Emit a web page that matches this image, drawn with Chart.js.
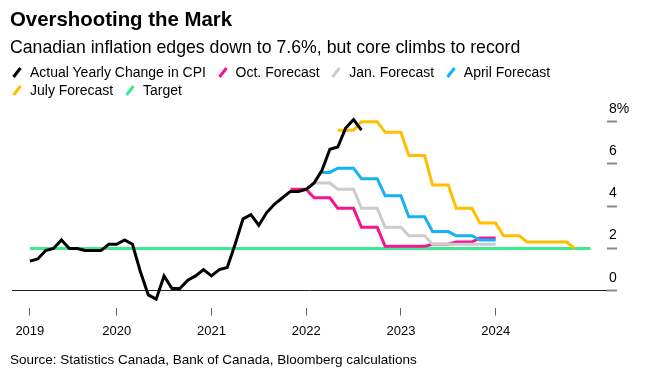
<!DOCTYPE html>
<html>
<head>
<meta charset="utf-8">
<script src="https://cdn.jsdelivr.net/npm/chart.js@4.4.1/dist/chart.umd.min.js"></script>
<style>
  html, body { margin: 0; padding: 0; background: #fff; }
  #wrap { position: relative; width: 647px; height: 388px; overflow: hidden;
          font-family: 'Liberation Sans', Arial, sans-serif; color: #000; }
  #c { position: absolute; left: 0; top: 0; }
  .t { position: absolute; left: 10px; white-space: nowrap; }
  #title { top: 6.5px; font-size: 20.4px; font-weight: bold; line-height: 24px; }
  #sub { top: 37.2px; font-size: 17.7px; line-height: 21px; }
  #legend { position: absolute; left: 12px; top: 63.6px; font-size: 14px; }
  .row { display: flex; align-items: center; height: 17.7px; white-space: nowrap; }
  .li { display: inline-flex; align-items: center; margin-right: 11.7px; }
  .li svg { margin-right: 8px; display: block; }
  #src { top: 352px; font-size: 13.5px; line-height: 16px; }
</style>
</head>
<body>
<div id="wrap">
  <canvas id="c" width="647" height="388"></canvas>
  <div class="t" id="title">Overshooting the Mark</div>
  <div class="t" id="sub">Canadian inflation edges down to 7.6%, but core climbs to record</div>
  <div id="legend"></div>
  <div class="t" id="src">Source: Statistics Canada, Bank of Canada, Bloomberg calculations</div>
</div>
<script>
// ---------------- DATA ----------------
// Actual yearly change in CPI, monthly from Jan 2019 to Jul 2022
const actualStart = '2019-01';
const actualCPI = [1.4, 1.5, 1.9, 2.0, 2.4, 2.0, 2.0, 1.9, 1.9, 1.9, 2.2, 2.2,
                   2.4, 2.2, 0.9, -0.2, -0.4, 0.7, 0.1, 0.1, 0.5, 0.7, 1.0, 0.7,
                   1.0, 1.1, 2.2, 3.4, 3.6, 3.1, 3.7, 4.1, 4.4, 4.7, 4.7, 4.8,
                   5.1, 5.7, 6.7, 6.8, 7.7, 8.1, 7.6];

// Bank of Canada forecasts (monthly values, quarterly steps)
const octStart = '2021-10';
const octForecast = [4.8, 4.8, 4.8, 4.4, 4.4, 4.4, 3.9, 3.9, 3.9, 3.0, 3.0, 3.0,
                     2.1, 2.1, 2.1, 2.1, 2.1, 2.1, 2.2, 2.2, 2.2, 2.3, 2.3, 2.3,
                     2.5, 2.5, 2.5];

const janStart = '2021-12';
const janForecast = [4.8, 5.1, 5.1, 5.1, 4.8, 4.8, 4.8, 3.9, 3.9, 3.9, 3.0, 3.0, 3.0,
                     2.6, 2.6, 2.6, 2.2, 2.2, 2.2, 2.2, 2.2, 2.2, 2.2, 2.2, 2.2];

const aprStart = '2022-02';
const aprForecast = [5.6, 5.6, 5.8, 5.8, 5.8, 5.3, 5.3, 5.3, 4.5, 4.5, 4.5,
                     3.5, 3.5, 3.5, 2.8, 2.8, 2.8, 2.6, 2.6, 2.6, 2.4, 2.4, 2.4];

const julStart = '2022-04';
const julForecast = [7.6, 7.6, 7.6, 8.0, 8.0, 8.0, 7.5, 7.5, 7.5,
                     6.4, 6.4, 6.4, 5.0, 5.0, 5.0, 3.9, 3.9, 3.9, 3.2, 3.2, 3.2,
                     2.6, 2.6, 2.6, 2.3, 2.3, 2.3, 2.3, 2.3, 2.3, 2.0];

// Inflation target
const targetValue = 2;
const targetStart = '2019-01';
const targetEnd = '2024-12';

// Axis ticks
const yearLabels = ['2019', '2020', '2021', '2022', '2023', '2024'];
const yearTickMonths = ['2019-01', '2019-12', '2020-12', '2021-12', '2022-12', '2023-12'];
const yTicks = [0, 2, 4, 6, 8];

// Series names / colours
const seriesNames = ['Actual Yearly Change in CPI', 'Oct. Forecast', 'Jan. Forecast',
                     'April Forecast', 'July Forecast', 'Target'];
const seriesColors = ['#000000', '#f5168f', '#cccccc', '#16b1f7', '#ffbf00', '#3eea90'];

// ---------------- HELPERS ----------------
function monthNum(s) {           // month-end position; Jan 2019 -> 1
  const [y, m] = s.split('-').map(Number);
  return (y - 2019) * 12 + m;
}
function series(start, vals) {
  const m0 = monthNum(start);
  return vals.map((v, i) => ({ x: m0 + i, y: v }));
}

// ---------------- LEGEND (HTML) ----------------
const legend = document.getElementById('legend');
const rows = [[0, 1, 2, 3], [4, 5]];
rows.forEach(r => {
  const row = document.createElement('div');
  row.className = 'row';
  r.forEach(i => {
    const it = document.createElement('span');
    it.className = 'li';
    it.innerHTML = '<svg width="10" height="11"><line x1="1.5" y1="10" x2="8.5" y2="1" stroke="' +
      seriesColors[i] + '" stroke-width="3"/></svg><span>' + seriesNames[i] + '</span>';
    row.appendChild(it);
  });
  legend.appendChild(row);
});

// ---------------- CHART ----------------
const FONT = "'Liberation Sans', Arial, sans-serif";
Chart.defaults.font.family = FONT;

const ds = (i, data, order, extra) => Object.assign({
  label: seriesNames[i], data, borderColor: seriesColors[i], backgroundColor: seriesColors[i],
  borderWidth: 3, pointRadius: 0, tension: 0, fill: false, order
}, extra || {});

new Chart(document.getElementById('c'), {
  type: 'line',
  data: {
    datasets: [
      ds(0, series(actualStart, actualCPI), 0),
      ds(4, series(julStart, julForecast), 1),
      ds(3, series(aprStart, aprForecast), 2),
      ds(2, series(janStart, janForecast), 3),
      ds(1, series(octStart, octForecast), 4),
      ds(5, [{ x: monthNum(targetStart), y: targetValue }, { x: monthNum(targetEnd), y: targetValue }], 5)
    ]
  },
  options: {
    responsive: false,
    animation: false,
    events: [],
    layout: { padding: { top: 100.6, bottom: 40.4, left: 12, right: 0 } },
    plugins: { legend: { display: false }, tooltip: { enabled: false } },
    scales: {
      x: {
        type: 'linear', min: -1.26, max: 74.1,
        afterBuildTicks: ax => { ax.ticks = yearTickMonths.map(s => ({ value: monthNum(s) })); },
        afterFit: ax => { ax.height = 40; },
        grid: { drawOnChartArea: false, drawTicks: true, tickLength: 8, tickColor: '#666', tickWidth: 1 },
        border: { display: false },
        ticks: {
          callback: (v, i) => yearLabels[i],
          autoSkip: false, maxRotation: 0, padding: 8,
          color: '#000', font: { size: 13 }
        }
      },
      y: {
        position: 'right', min: -0.8, max: 9,
        afterBuildTicks: ax => { ax.ticks = yTicks.map(v => ({ value: v })); },
        afterFit: ax => { ax.width = 40; },
        grid: {
          color: c => (c.tick && c.tick.value === 0) ? '#222' : 'rgba(0,0,0,0)',
          lineWidth: 1, drawTicks: true, tickLength: 10, tickColor: '#888', tickWidth: 2
        },
        border: { display: false },
        ticks: {
          callback: v => v === 8 ? '8%' : String(v),
          padding: -8, labelOffset: -13, color: '#000', font: { size: 14 }
        }
      }
    }
  }
});
</script>
</body>
</html>
